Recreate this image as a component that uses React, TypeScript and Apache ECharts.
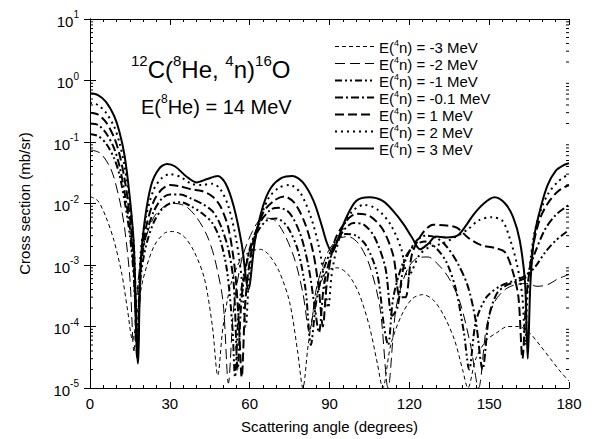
import React, { useEffect, useRef } from "react";
import * as echarts from "echarts";

// Legend labels (E(4n) energies)
const energyLabels = ["-3", "-2", "-1", "-0.1", "1", "2", "3"];

// X-axis (degrees) and Y-axis (mb/sr) ranges
const xTicks = [0, 30, 60, 90, 120, 150, 180];
const yDecades = [-5, -4, -3, -2, -1, 0, 1];

// Series: [scattering angle (deg), cross section (mb/sr)]
const sM3: [number, number][] = [
  [0, 0.013], [3, 0.011], [6, 6e-3], [9, 2.5e-3], [12, 7e-4], [14, 2e-4], [16, 6e-5], [18, 2e-4],
  [20, 6e-4], [24, 2e-3], [28, 3.3e-3], [31, 3.5e-3], [35, 3e-3], [39, 1.7e-3], [43, 6e-4],
  [46, 1e-4], [48, 1.6e-5], [50, 1e-4], [53, 5e-4], [57, 1.3e-3], [61, 1.7e-3], [64, 1.8e-3],
  [67, 1.5e-3], [71, 8e-4], [75, 2.5e-4], [78, 4e-5], [80, 1e-5], [82, 5e-5], [85, 3e-4],
  [89, 8e-4], [93, 9e-4], [97, 7e-4], [101, 3.5e-4], [105, 1e-4], [108, 2.5e-5], [110, 1e-5],
  [113, 5e-5], [117, 1.5e-4], [121, 2.8e-4], [125, 3.3e-4], [129, 2.7e-4], [133, 1.5e-4],
  [137, 6e-5], [140, 2e-5], [142, 1e-5], [145, 3e-5], [149, 6e-5], [153, 8e-5], [157, 1e-4],
  [161, 1e-4], [165, 8e-5], [169, 5e-5], [173, 3e-5], [177, 1.8e-5], [180, 1.3e-5],
];
const sM2: [number, number][] = [
  [0, 0.075], [4, 0.065], [8, 0.035], [11, 0.012], [13, 4e-3], [15, 6e-4], [16.5, 4e-5], [18, 5e-4],
  [20, 2e-3], [24, 6e-3], [28, 9e-3], [32, 0.01], [36, 9e-3], [40, 6e-3], [44, 3e-3], [47, 1.2e-3],
  [50, 2.5e-4], [52, 1.2e-5], [54, 2e-4], [57, 1.2e-3], [61, 3.5e-3], [65, 5.8e-3], [69, 5.5e-3],
  [73, 3.2e-3], [77, 1.2e-3], [80, 3.5e-4], [82.5, 8e-5], [85, 4e-4], [89, 1.5e-3], [93, 2.6e-3],
  [97, 2.9e-3], [101, 2.2e-3], [105, 1e-3], [109, 2e-4], [112, 1e-5], [115, 2e-4], [119, 8e-4],
  [123, 1.3e-3], [127, 1.35e-3], [131, 1e-3], [135, 6e-4], [139, 2.5e-4], [143, 5e-5], [146, 1e-5],
  [149, 1e-4], [152, 2.5e-4], [156, 4e-4], [160, 4.8e-4], [164, 5e-4], [168, 4.5e-4], [172, 4.8e-4],
  [176, 6e-4], [180, 7e-4],
];
const sM1: [number, number][] = [
  [0, 0.135], [3, 0.125], [6, 0.095], [9, 0.055], [11, 0.03], [13, 0.011], [15, 3e-3], [16.5, 6e-4],
  [17.8, 4e-5], [19, 6e-4], [21, 2e-3], [24, 5e-3], [27, 8e-3], [30, 0.01], [34, 0.0105], [38, 9e-3],
  [42, 7e-3], [46, 4.8e-3], [49, 2.5e-3], [51.5, 8e-4], [53.5, 1e-4], [54.5, 1.5e-5], [56, 2e-4],
  [59, 1.2e-3], [63, 3.5e-3], [67, 5.5e-3], [70, 5.7e-3], [74, 4.3e-3], [78, 1.8e-3], [81, 4e-4],
  [83, 5e-5], [85, 2.5e-4], [88, 9e-4], [92, 2.2e-3], [96, 3.2e-3], [100, 3e-3], [104, 2e-3],
  [108, 7e-4], [110.5, 1e-4], [112, 5e-5], [114, 3e-4], [118, 1.2e-3], [122, 2.1e-3], [126, 2.4e-3],
  [130, 1.9e-3], [134, 1.1e-3], [137.5, 4e-4], [140.5, 8e-5], [142.5, 2e-5], [145, 1.2e-4],
  [149, 3e-4], [154, 4.5e-4], [159, 5.5e-4], [163, 6.5e-4], [167, 9e-4], [171, 1.6e-3], [175, 2.5e-3],
  [180, 3.7e-3],
];
const sM01: [number, number][] = [
  [0, 0.2], [3, 0.19], [6, 0.14], [9, 0.08], [11, 0.042], [13, 0.015], [15, 4e-3], [16.5, 8e-4],
  [17.8, 3e-5], [19, 8e-4], [21, 3e-3], [24, 7.5e-3], [27, 0.012], [30, 0.014], [34, 0.014], [38, 0.012],
  [42, 0.01], [46, 7.5e-3], [49, 4.5e-3], [52, 1.8e-3], [54, 5e-4], [55.5, 2e-5], [57, 3e-4],
  [60, 1.8e-3], [64, 5e-3], [68, 8e-3], [71, 8.5e-3], [75, 7e-3], [79, 3.2e-3], [82, 1e-3],
  [84.5, 2e-4], [86, 8e-5], [88, 5e-4], [91, 1.6e-3], [95, 3.5e-3], [99, 4.8e-3], [103, 4.5e-3],
  [107, 2.8e-3], [111, 9e-4], [113.5, 1.5e-4], [115.5, 2e-4], [118, 1e-3], [122, 2.3e-3], [126, 3e-3],
  [130, 2.8e-3], [134, 2e-3], [138, 1.1e-3], [142, 4.5e-4], [145, 1.2e-4], [147.5, 2e-5], [150, 1.5e-4],
  [153, 3.5e-4], [157, 4.8e-4], [161, 5.5e-4], [164, 6.5e-4], [167, 1.5e-3], [171, 3.8e-3],
  [175, 6.5e-3], [180, 9.5e-3],
];
const sP1: [number, number][] = [
  [0, 0.3], [3, 0.28], [6, 0.21], [9, 0.12], [11, 0.065], [13, 0.025], [15, 6e-3], [16.5, 1.2e-3],
  [17.8, 3e-5], [19, 1e-3], [21, 4e-3], [24, 0.011], [27, 0.017], [30, 0.02], [34, 0.019], [38, 0.017],
  [42, 0.016], [46, 0.013], [49, 9e-3], [52, 4e-3], [54.5, 8e-4], [56, 1e-4], [57, 1.5e-5], [58.5, 3e-4],
  [61, 2e-3], [65, 7e-3], [69, 0.011], [73, 0.013], [77, 0.01], [81, 4.5e-3], [84, 1.5e-3], [86, 4e-4],
  [87.5, 1e-4], [89, 5e-4], [92, 2.5e-3], [96, 5e-3], [100, 6.8e-3], [105, 6.3e-3], [110, 3.8e-3],
  [114, 1.4e-3], [116.5, 3e-4], [118.5, 3e-4], [121, 1.5e-3], [125, 3.3e-3], [129, 4.5e-3],
  [134, 4.4e-3], [138, 4e-3], [142, 2.8e-3], [147, 2.1e-3], [152, 1.9e-3], [156, 1.6e-3],
  [159, 7.5e-4], [161, 3e-4], [162.5, 3e-5], [164, 3e-4], [166.5, 2e-3], [169, 5.5e-3], [172, 0.01],
  [176, 0.016], [180, 0.02],
];
const sP2: [number, number][] = [
  [0, 0.43], [3, 0.4], [6, 0.3], [9, 0.18], [11, 0.1], [13, 0.04], [15, 0.01], [16.5, 2e-3],
  [17.8, 5e-5], [19, 1.5e-3], [21, 6e-3], [24, 0.017], [27, 0.026], [30, 0.03], [34, 0.027],
  [38, 0.021], [42, 0.02], [46, 0.021], [49, 0.017], [52, 9e-3], [55, 2.5e-3], [57, 6e-4],
  [58.5, 1e-4], [60, 8e-4], [63, 4e-3], [67, 0.012], [71, 0.018], [75, 0.02], [79, 0.015], [83, 6e-3],
  [86, 2e-3], [88, 6e-4], [89.5, 2e-4], [91, 8e-4], [94, 3e-3], [98, 7e-3], [103, 9.5e-3], [108, 8e-3],
  [113, 4.5e-3], [117, 1.8e-3], [119.5, 6e-4], [121, 8e-4], [124, 1.5e-3], [128, 2e-3], [132, 2.2e-3],
  [137, 2.8e-3], [142, 3.8e-3], [146, 5.3e-3], [151, 6e-3], [155, 5.2e-3], [158, 2.5e-3],
  [160.5, 1e-3], [162.5, 3e-4], [163.5, 5e-5], [164.5, 4e-4], [166.5, 2.5e-3], [169, 7e-3],
  [172, 0.014], [176, 0.023], [180, 0.03],
];
const sP3: [number, number][] = [
  [0, 0.62], [3, 0.58], [6, 0.45], [9, 0.27], [11, 0.15], [13, 0.06], [15, 0.012], [16.5, 2e-3],
  [18, 2.5e-5], [19, 1e-3], [20.5, 5e-3], [23, 0.02], [26, 0.037], [29, 0.044], [32, 0.04], [36, 0.028],
  [40, 0.022], [44, 0.025], [48, 0.028], [51, 0.021], [54, 9e-3], [57, 2.2e-3], [59.5, 4e-4],
  [62, 2.5e-3], [65, 9e-3], [68, 0.018], [72, 0.026], [76, 0.028], [80, 0.022], [84, 0.011],
  [87, 4.5e-3], [89, 2.3e-3], [91, 1.6e-3], [93, 2.5e-3], [96, 5.5e-3], [100, 0.011], [105, 0.0126],
  [110, 0.011], [114, 7.5e-3], [118, 4.5e-3], [121, 2.8e-3], [124, 1.8e-3], [127, 2.2e-3],
  [130, 2.9e-3], [134, 2.8e-3], [138, 3e-3], [141, 4.2e-3], [144, 6.5e-3], [148, 0.01], [152, 0.0126],
  [156, 0.01], [159, 6e-3], [161.5, 2.5e-3], [163.5, 5e-4], [164.5, 3e-5], [165.5, 5e-4], [167, 3e-3],
  [169.5, 9e-3], [172, 0.02], [175, 0.034], [178, 0.042], [180, 0.045],
];

const seriesData = [sM3, sM2, sM1, sM01, sP1, sP2, sP3];
const lineTypes: any[] = [[4, 3], [10, 5], [7, 3, 2, 3, 2, 3], [8, 3, 2, 3], [9, 4], [2, 4], "solid"];
const lineWidths = [1, 1, 2, 2, 2, 2, 2];

const FONT = "'Liberation Sans', Arial, sans-serif";

function supStyles(base: number, sup: number, lh: number) {
  return {
    b: { fontSize: base, fontFamily: FONT, fontWeight: "normal", color: "#000", lineHeight: lh, verticalAlign: "bottom" },
    sup: { fontSize: sup, fontFamily: FONT, fontWeight: "normal", color: "#000", lineHeight: sup, verticalAlign: "top" },
  };
}

export default function App() {
  const ref = useRef<HTMLDivElement>(null);
  useEffect(() => {
    if (!ref.current) return;
    const chart = echarts.init(ref.current, null, { renderer: "svg" });
    const names = energyLabels.map((e) => `E(4n) = ${e} MeV`);
    const minorVals: number[][] = [];
    yDecades.slice(0, -1).forEach((d) => {
      for (let k = 2; k <= 9; k++) minorVals.push([0, k * Math.pow(10, d)]);
    });
    const lineSeries = seriesData.map((d, i) => ({
      type: "line",
      name: names[i],
      data: d,
      showSymbol: false,
      symbol: "none",
      smooth: 0.3,
      clip: true,
      lineStyle: { color: "#000", width: lineWidths[i], type: lineTypes[i] },
      itemStyle: { color: "#000" },
      xAxisIndex: 0,
      yAxisIndex: 0,
    }));
    const xBase = {
      type: "value",
      min: xTicks[0],
      max: xTicks[xTicks.length - 1],
      interval: 30,
      splitLine: { show: false },
      axisLine: { lineStyle: { color: "#000", width: 1 } },
      axisTick: { inside: true, length: 6, lineStyle: { color: "#000" } },
      minorTick: { show: true, splitNumber: 6, length: 3, lineStyle: { color: "#000" } },
    };
    const yBase = {
      type: "log",
      logBase: 10,
      min: Math.pow(10, yDecades[0]),
      max: Math.pow(10, yDecades[yDecades.length - 1]),
      splitLine: { show: false },
      axisLine: { show: true, lineStyle: { color: "#000", width: 1 } },
      axisTick: { inside: true, length: 6, lineStyle: { color: "#000" } },
    };
    chart.setOption({
      animation: false,
      backgroundColor: "#fff",
      textStyle: { fontFamily: FONT },
      grid: { left: 90, right: 27, top: 19, bottom: 49, containLabel: false },
      title: [
        {
          text: "{sup|12}{b|C(}{sup|8}{b|He, }{sup|4}{b|n)}{sup|16}{b|O}",
          left: 126,
          top: 48,
          textStyle: { fontWeight: "normal", rich: supStyles(24, 15, 28) },
        },
        {
          text: "{b|E(}{sup|8}{b|He) = 14 MeV}",
          left: 136,
          top: 88,
          textStyle: { fontWeight: "normal", rich: supStyles(20, 12, 24) },
        },
      ],
      legend: {
        data: names.map((n, i) => ({
          name: n,
          lineStyle: { width: lineWidths[i], type: lineTypes[i], color: "#000" },
        })),
        orient: "vertical",
        left: 329,
        top: 33,
        itemWidth: 39,
        itemHeight: 10,
        itemGap: 0,
        itemStyle: { opacity: 0, borderWidth: 0 },
        formatter: (n: string) => {
          const e = n.replace("E(4n) = ", "").replace(" MeV", "");
          return `{b|E(}{sup|4}{b|n) = ${e} MeV}`;
        },
        textStyle: { rich: supStyles(15, 9, 17) },
      },
      xAxis: [
        {
          ...xBase,
          position: "bottom",
          name: "Scattering angle (degrees)",
          nameLocation: "middle",
          nameGap: 31,
          nameTextStyle: { fontSize: 15, color: "#000", fontFamily: FONT },
          axisLabel: { fontSize: 15, color: "#000", margin: 8, fontFamily: FONT },
        },
        { ...xBase, position: "top", axisLabel: { show: false } },
      ],
      yAxis: [
        {
          ...yBase,
          position: "left",
          name: "Cross section (mb/sr)",
          nameLocation: "middle",
          nameGap: 58,
          nameRotate: 90,
          nameTextStyle: { fontSize: 15, color: "#000", fontFamily: FONT },
          axisLabel: {
            margin: 11,
            formatter: (v: number) => `{b|10}{sup|${Math.round(Math.log10(v))}}`,
            rich: supStyles(15, 10, 19),
          },
        },
        { ...yBase, position: "right", axisLabel: { show: false } },
      ],
      series: [
        ...lineSeries,
        {
          type: "custom",
          name: "minorTicks",
          silent: true,
          xAxisIndex: 0,
          yAxisIndex: 0,
          data: minorVals,
          renderItem: (params: any, api: any) => {
            const y = api.coord([0, api.value(1)])[1];
            const cs = params.coordSys;
            return {
              type: "group",
              children: [
                { type: "line", shape: { x1: cs.x, y1: y, x2: cs.x + 3, y2: y }, style: { stroke: "#000", lineWidth: 1 } },
                {
                  type: "line",
                  shape: { x1: cs.x + cs.width - 3, y1: y, x2: cs.x + cs.width, y2: y },
                  style: { stroke: "#000", lineWidth: 1 },
                },
              ],
            };
          },
        },
      ],
    });
    return () => chart.dispose();
  }, []);
  return <div ref={ref} style={{ width: 596, height: 439, position: "absolute", left: 0, top: 0 }} />;
}
